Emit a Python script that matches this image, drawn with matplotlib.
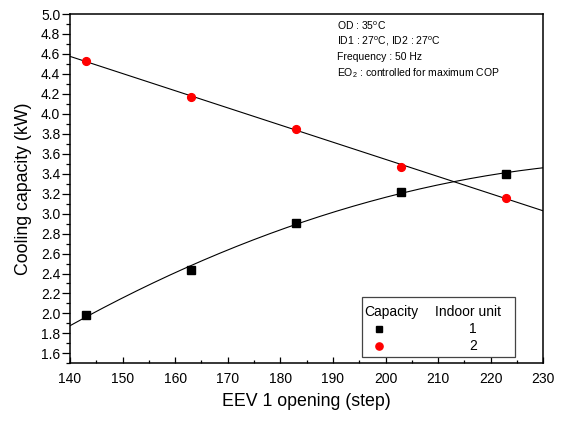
import numpy as np
import matplotlib
matplotlib.use("Agg")
import matplotlib.pyplot as plt
from matplotlib.ticker import MultipleLocator, FormatStrFormatter

plt.rcParams['font.family'] = ['Liberation Sans', 'DejaVu Sans']
plt.rcParams['mathtext.fontset'] = 'custom'
plt.rcParams['mathtext.rm'] = 'Liberation Sans'
plt.rcParams['mathtext.it'] = 'Liberation Sans:italic'

# EEV 1 opening steps and measured cooling capacity of each indoor unit
eev_opening = [143, 163, 183, 203, 223]
capacity_unit1 = [1.98, 2.44, 2.91, 3.22, 3.40]
capacity_unit2 = [4.53, 4.17, 3.85, 3.47, 3.16]

x_ticks = [140, 150, 160, 170, 180, 190, 200, 210, 220, 230]
conditions = [
    "OD : 35$^{\\mathrm{o}}$C",
    "ID1 : 27$^{\\mathrm{o}}$C, ID2 : 27$^{\\mathrm{o}}$C",
    "Frequency : 50 Hz",
    "EO$_{2}$ : controlled for maximum COP",
]

fig = plt.figure(figsize=(5.65, 4.21), dpi=100)
ax = fig.add_axes([0.1239, 0.137, 0.8377, 0.8297])

# trend lines: quadratic for unit 1, linear for unit 2
xs = np.linspace(140, 230, 200)
p1 = np.polyfit(eev_opening, capacity_unit1, 2)
p2 = np.polyfit(eev_opening, capacity_unit2, 1)
ax.plot(xs, np.polyval(p1, xs), color='black', lw=0.8, zorder=2)
ax.plot(xs, np.polyval(p2, xs), color='black', lw=0.8, zorder=2)

ax.plot(eev_opening, capacity_unit1, linestyle='none', marker='s', ms=5.2,
        color='black', zorder=3)
ax.plot(eev_opening, capacity_unit2, linestyle='none', marker='o', ms=5.6,
        color='red', markeredgecolor='red', zorder=3)

ax.set_xlim(140, 230)
ax.set_ylim(1.5, 5.0)
ax.set_xticks(x_ticks)
ax.xaxis.set_minor_locator(MultipleLocator(5))
ax.set_yticks(np.arange(1.6, 5.01, 0.2))
ax.yaxis.set_minor_locator(MultipleLocator(0.1))
ax.yaxis.set_major_formatter(FormatStrFormatter('%.1f'))

ax.tick_params(axis='x', which='major', direction='in', length=4.5, width=0.9,
               labelsize=10, pad=6)
ax.tick_params(axis='x', which='minor', direction='in', length=2.5, width=0.9)
ax.tick_params(axis='y', which='major', direction='out', length=5.5, width=0.9,
               labelsize=10, pad=1.5)
ax.tick_params(axis='y', which='minor', direction='out', length=3, width=0.9)
for s in ax.spines.values():
    s.set_linewidth(1.1)

ax.set_xlabel("EEV 1 opening (step)", fontsize=12.8, labelpad=5)
ax.set_ylabel("Cooling capacity (kW)", fontsize=12.8, labelpad=6)

# operating conditions
for i, line in enumerate(conditions):
    ax.text(0.565, 0.966 - i * 0.045, line, transform=ax.transAxes,
            fontsize=7.5, va='center', ha='left')

# legend box
box = plt.Rectangle((0.617, 0.018), 0.323, 0.172, transform=ax.transAxes,
                    facecolor='white', edgecolor='#444444', lw=0.9, zorder=4)
ax.add_patch(box)
ax.text(0.621, 0.148, "Capacity", transform=ax.transAxes, fontsize=10,
        va='center', ha='left', zorder=5)
ax.text(0.771, 0.148, "Indoor unit", transform=ax.transAxes, fontsize=10,
        va='center', ha='left', zorder=5)
ax.plot([0.653], [0.098], transform=ax.transAxes, marker='s', ms=4.5,
        color='black', linestyle='none', zorder=5, clip_on=False)
ax.plot([0.653], [0.050], transform=ax.transAxes, marker='o', ms=5.2,
        color='red', linestyle='none', zorder=5, clip_on=False)
ax.text(0.852, 0.098, "1", transform=ax.transAxes, fontsize=10,
        va='center', ha='center', zorder=5)
ax.text(0.852, 0.050, "2", transform=ax.transAxes, fontsize=10,
        va='center', ha='center', zorder=5)

fig.savefig("out.png", dpi=100)
